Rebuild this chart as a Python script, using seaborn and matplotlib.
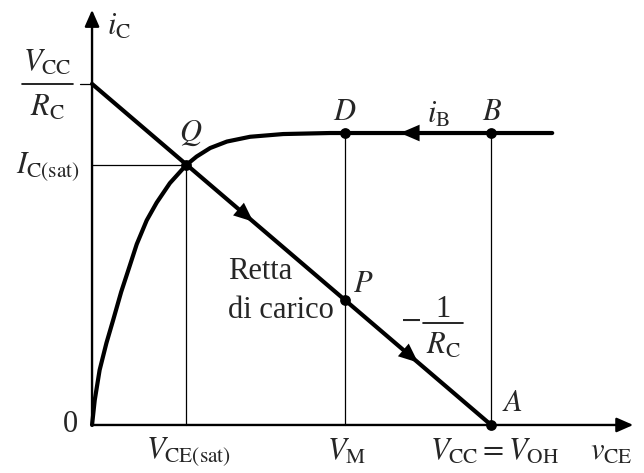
import matplotlib
matplotlib.use("Agg")
import pandas as pd
import seaborn as sns
import matplotlib.pyplot as plt

# values (arbitrary units: V_CC = 10, V_CC/R_C = 10)
v_cc = 10.0
i_max = 10.0        # V_CC / R_C
v_ce_sat = 2.36
i_c_sat = 7.62
v_m = 6.34
i_p = 3.66
i_b_level = 8.56
v_axis_end = 13.56
i_axis_end = 12.17

# transistor characteristic for the given i_B
curve_v = [0, 0.068, 0.19, 0.36, 0.53, 0.73, 0.94, 1.12, 1.37, 1.62, 1.95, 2.29,
           2.36, 2.62, 2.96, 3.38, 3.96, 4.79, 5.96, 6.34, 10.0, 11.53]
curve_i = [0, 0.73, 1.61, 2.40, 3.08, 3.90, 4.65, 5.30, 6.00, 6.52, 7.09, 7.53,
           7.62, 7.87, 8.12, 8.31, 8.45, 8.53, 8.56, 8.56, 8.56, 8.56]

# load line
load_v = [0, v_cc]
load_i = [i_max, 0]

# marked points
pts_name = ["Q", "D", "B", "P", "A"]
pts_v = [v_ce_sat, v_m, v_cc, v_m, v_cc]
pts_i = [i_c_sat, i_b_level, i_b_level, i_p, 0]

sns.set_style("white")
plt.rcParams["font.family"] = ["Liberation Serif", "DejaVu Serif"]
plt.rcParams["mathtext.fontset"] = "stix"

fig = plt.figure(figsize=(6.44, 4.73), dpi=100)
ax = fig.add_axes([0, 0, 1, 1])

# axes with arrows
axis_arrow = dict(arrowstyle="-|>,head_length=0.5,head_width=0.22", lw=1.7,
                  color="black", mutation_scale=20, shrinkA=0, shrinkB=0)
ax.annotate("", xy=(v_axis_end, 0), xytext=(0, 0), arrowprops=axis_arrow)
ax.annotate("", xy=(0, i_axis_end), xytext=(0, 0), arrowprops=axis_arrow)

# thin guide lines
thin = dict(color="black", lw=0.9)
ax.plot([0, v_ce_sat], [i_c_sat, i_c_sat], **thin)
ax.plot([v_ce_sat, v_ce_sat], [0, i_c_sat], **thin)
ax.plot([v_m, v_m], [0, i_b_level], **thin)
ax.plot([v_cc, v_cc], [0, i_b_level], **thin)
ax.plot([-0.3, 0], [i_max, i_max], **thin)

curve = pd.DataFrame({"v": curve_v, "i": curve_i})
load = pd.DataFrame({"v": load_v, "i": load_i})
sns.lineplot(data=curve, x="v", y="i", sort=False, estimator=None,
             color="black", lw=3, ax=ax)
sns.lineplot(data=load, x="v", y="i", sort=False, estimator=None,
             color="black", lw=3, ax=ax)

pts = pd.DataFrame({"name": pts_name, "v": pts_v, "i": pts_i})
sns.scatterplot(data=pts, x="v", y="i", color="black", s=60,
                linewidth=0, ax=ax, zorder=5)
ax.set_xlim(-2.306, 13.83)
ax.set_ylim(-1.408, 12.46)
ax.axis("off")

# direction arrows on the lines
head = dict(arrowstyle="-|>,head_length=0.7,head_width=0.3", lw=0,
            color="black", mutation_scale=20, shrinkA=0, shrinkB=0)
for tip in [4.04, 8.17]:
    ax.annotate("", xy=(tip, i_max - tip), xytext=(tip - 0.4, i_max - tip + 0.4),
                arrowprops=head)
ax.annotate("", xy=(7.72, i_b_level), xytext=(8.2, i_b_level), arrowprops=head)

fs = 22
ax.text(0.38, 11.67, r"$i_{\mathrm{C}}$", fontsize=fs, ha="left", va="center")

# V_CC / R_C fraction
ax.text(-1.13, 10.62, r"$V_{\mathrm{CC}}$", fontsize=fs, ha="center", va="center")
ax.plot([-1.75, -0.48], [i_max, i_max], color="black", lw=1.2, clip_on=False)
ax.text(-1.13, 9.30, r"$R_{\mathrm{C}}$", fontsize=fs, ha="center", va="center")

ax.text(-0.30, 7.57, r"$I_{\mathrm{C(sat)}}$", fontsize=fs, ha="right", va="center")
ax.text(-0.55, 0, "0", fontsize=fs, ha="center", va="center")

ax.text(2.48, 8.56, r"$Q$", fontsize=fs, ha="center", va="center")
ax.text(6.34, 9.15, r"$D$", fontsize=fs, ha="center", va="center")
ax.text(8.67, 9.09, r"$i_{\mathrm{B}}$", fontsize=fs, ha="center", va="center")
ax.text(10.02, 9.15, r"$B$", fontsize=fs, ha="center", va="center")
ax.text(6.79, 4.11, r"$P$", fontsize=fs, ha="center", va="center")
ax.text(10.53, 0.62, r"$A$", fontsize=fs, ha="center", va="center")

ax.text(3.41, 4.49, "Retta", fontsize=fs, ha="left", va="center")
ax.text(3.41, 3.37, "di carico", fontsize=fs, ha="left", va="center")

# slope -1/R_C
ax.text(7.97, 3.08, r"$-$", fontsize=fs, ha="center", va="center")
ax.text(8.80, 3.40, "1", fontsize=fs, ha="center", va="center")
ax.plot([8.30, 9.30], [2.99, 2.99], color="black", lw=1.2)
ax.text(8.80, 2.32, r"$R_{\mathrm{C}}$", fontsize=fs, ha="center", va="center")

ax.text(2.41, -0.79, r"$V_{\mathrm{CE(sat)}}$", fontsize=fs, ha="center", va="center")
ax.text(6.39, -0.79, r"$V_{\mathrm{M}}$", fontsize=fs, ha="center", va="center")
ax.text(10.08, -0.79, r"$V_{\mathrm{CC}} = V_{\mathrm{OH}}$", fontsize=fs,
        ha="center", va="center")
ax.text(12.48, -0.79, r"$v_{\mathrm{CE}}$", fontsize=fs, ha="left", va="center")

fig.savefig("out.png", dpi=100)
